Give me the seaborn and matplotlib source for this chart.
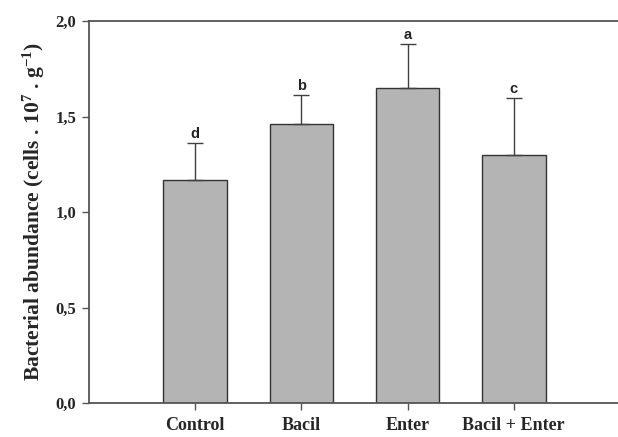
import numpy as np
import matplotlib
matplotlib.use("Agg")
import matplotlib.pyplot as plt
import pandas as pd
import seaborn as sns

# 数据
groups = ["Control", "Bacil", "Enter", "Bacil + Enter"]
means = [1.17, 1.46, 1.65, 1.30]
errors = [0.19, 0.15, 0.23, 0.295]
letters = ["d", "b", "a", "c"]

sns.set_theme(style="ticks")
plt.rcParams['font.family'] = ['Liberation Serif', 'DejaVu Serif']
plt.rcParams['font.weight'] = 'bold'
plt.rcParams['mathtext.fontset'] = 'custom'
plt.rcParams['mathtext.rm'] = 'Liberation Serif:bold'
plt.rcParams['mathtext.default'] = 'rm'

df = pd.DataFrame({"group": groups, "mean": means, "err": errors})

fig = plt.figure(figsize=(6.18, 4.37), dpi=100)
ax = fig.add_axes([89 / 618, 34 / 437, 531 / 618, 382 / 437])

sns.barplot(data=df, x="group", y="mean", order=groups, color="#b4b4b4",
            saturation=1, width=0.6, edgecolor="#333333", linewidth=1.0,
            errorbar=None, ax=ax)

# 只画向上的误差线
x = np.arange(len(groups))
ax.errorbar(x, df["mean"], yerr=[np.zeros(len(groups)), df["err"]],
            fmt="none", ecolor="#404040", elinewidth=1.0, capsize=6,
            capthick=1.0, zorder=3)

# 显著性字母
for xi, m, e, lab in zip(x, means, errors, letters):
    ax.text(xi, m + e + 0.012, lab, ha="center", va="bottom",
            fontsize=10.5, fontweight="bold", family="Liberation Sans",
            color="#222222")

ax.set_xlim(-1, 4)
ax.set_ylim(0, 2.0)
ax.set_yticks([0, 0.5, 1.0, 1.5, 2.0])
ax.set_yticklabels(["0,0", "0,5", "1,0", "1,5", "2,0"])
ax.set_xlabel("")
ax.set_ylabel(r"Bacterial abundance (cells . 10$^{7}$ . g$^{-1}$)",
              fontsize=15.5, fontweight="bold", labelpad=6)

for sp in ["left", "bottom", "top"]:
    ax.spines[sp].set_color("#555555")
    ax.spines[sp].set_linewidth(1.3)
ax.spines["right"].set_visible(False)
ax.tick_params(axis="both", direction="out", length=5, width=1.0,
               color="#555555")
ax.tick_params(axis="x", pad=5, labelsize=13)
ax.tick_params(axis="y", pad=4, labelsize=12)
for t in ax.get_xticklabels() + ax.get_yticklabels():
    t.set_fontweight("bold")

fig.savefig("out.png", dpi=100)
